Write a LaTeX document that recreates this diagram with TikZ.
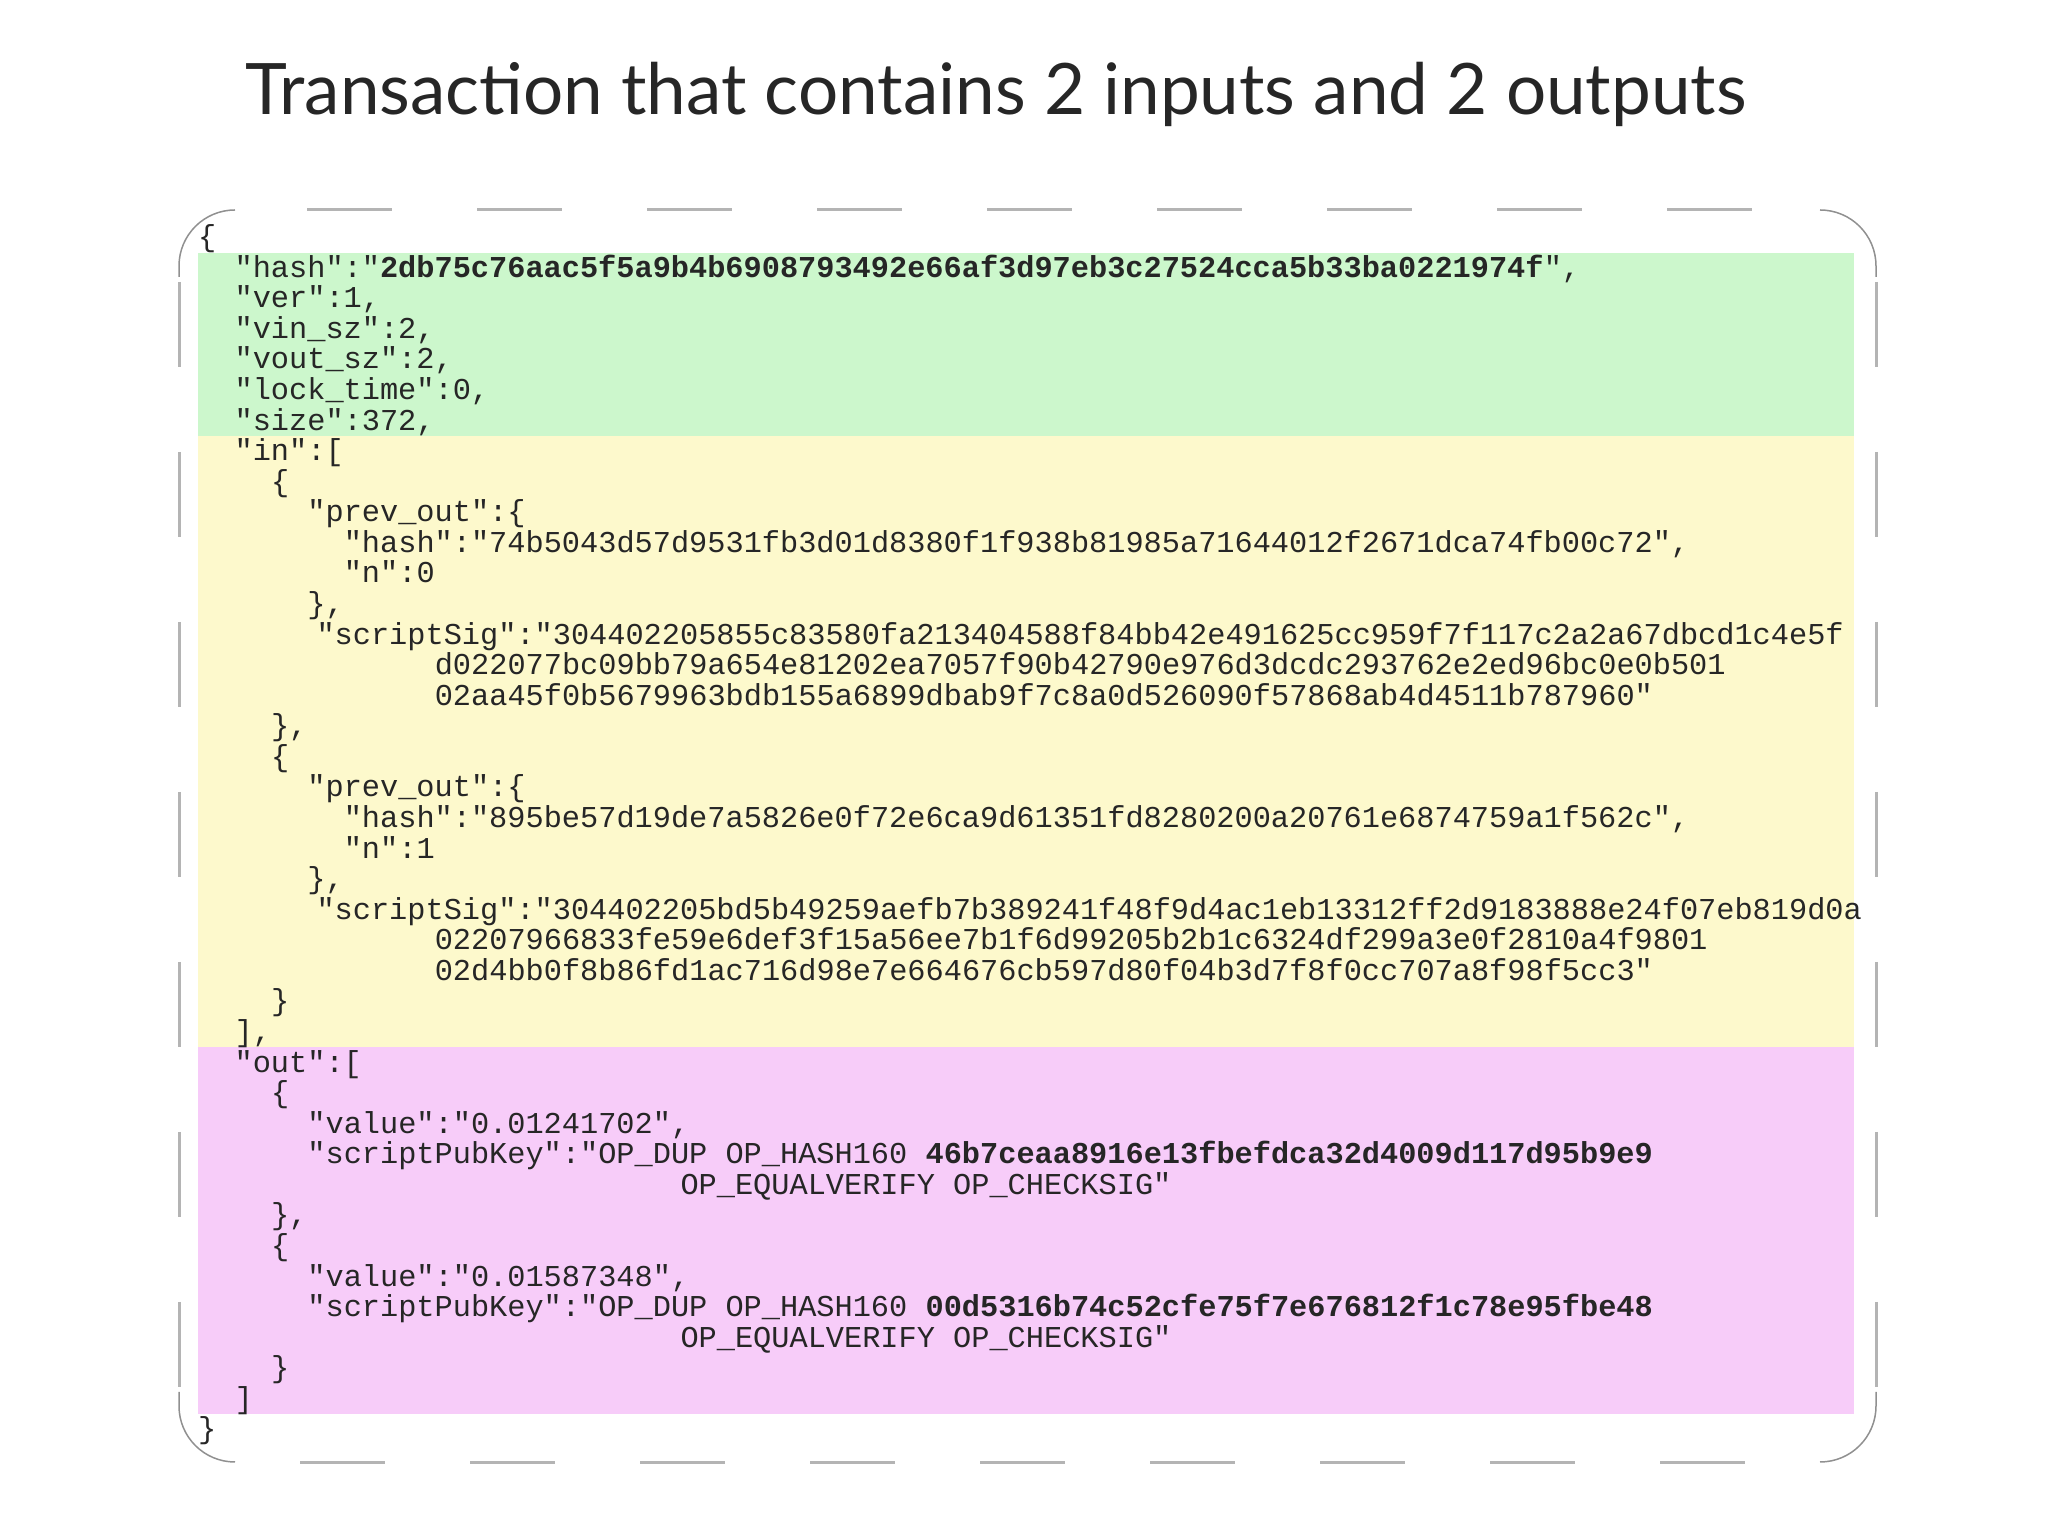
\documentclass[tikz,border=0pt]{standalone}
\usepackage{fontspec}
\setmainfont{Lato}
\setmonofont{Liberation Mono}
\definecolor{grn}{HTML}{CCF7CC}
\definecolor{ylw}{HTML}{FDF9CC}
\definecolor{pnk}{HTML}{F7CCF9}
\definecolor{brd}{HTML}{B4B4B4}
\tikzset{codeline/.style={anchor=base west,inner sep=0pt,font=\fontsize{30.3}{30}\selectfont\ttfamily,text=black!85},
  edgedash/.style={brd,line width=3pt,dash pattern=on 85pt off 85pt},
  corner/.style={brd!80!black,line width=1.5pt}}
\newcommand{\cl}[3]{\node[codeline] (l#1) at ({198+18.2*#2},{1537-246.7-30.57*#1}) {#3};}
\begin{document}
\begin{tikzpicture}[x=1pt,y=1pt]
\useasboundingbox (0,0) rectangle (2048,1537);
\node[font=\fontsize{71}{80}\selectfont,text=black!85] (title) at (996,1443) {Transaction that contains 2 inputs and 2 outputs};
\fill[grn] (198,1284) rectangle (1854,1101);
\fill[ylw] (198,1101) rectangle (1854,490);
\fill[pnk] (198,490) rectangle (1854,123);
\coordinate (tl) at (179,1328);
\coordinate (br) at (1877,74);
% dashed straight edges
\draw[edgedash,dash phase=-72pt] (235,1327) -- (1820,1327);
\draw[edgedash,dash phase=-65pt] (235,75) -- (1820,75);
\draw[edgedash,dash phase=-20pt] (179,1275) -- (179,130);
\draw[edgedash,dash phase=-20pt] (1876,1275) -- (1876,130);
% solid corner arcs
\draw[corner] (235,1327) arc[start angle=90,end angle=180,radius=56] -- (179,1260);
\draw[corner] (1820,1327) arc[start angle=90,end angle=0,radius=56] -- (1876,1260);
\draw[corner] (235,75) arc[start angle=270,end angle=180,radius=56] -- (179,145);
\draw[corner] (1820,75) arc[start angle=270,end angle=360,radius=56] -- (1876,145);
\cl{0}{0}{\{}
\cl{1}{2}{"hash":"\textbf{2db75c76aac5f5a9b4b6908793492e66af3d97eb3c27524cca5b33ba0221974f}",}
\cl{2}{2}{"ver":1,}
\cl{3}{2}{"vin\_sz":2,}
\cl{4}{2}{"vout\_sz":2,}
\cl{5}{2}{"lock\_time":0,}
\cl{6}{2}{"size":372,}
\cl{7}{2}{"in":[}
\cl{8}{4}{\{}
\cl{9}{6}{"prev\_out":\{}
\cl{10}{8}{"hash":"74b5043d57d9531fb3d01d8380f1f938b81985a71644012f2671dca74fb00c72",}
\cl{11}{8}{"n":0}
\cl{12}{6}{\},}
\cl{13}{6.5}{"scriptSig":"304402205855c83580fa213404588f84bb42e491625cc959f7f117c2a2a67dbcd1c4e5f}
\cl{14}{13}{d022077bc09bb79a654e81202ea7057f90b42790e976d3dcdc293762e2ed96bc0e0b501}
\cl{15}{13}{02aa45f0b5679963bdb155a6899dbab9f7c8a0d526090f57868ab4d4511b787960"}
\cl{16}{4}{\},}
\cl{17}{4}{\{}
\cl{18}{6}{"prev\_out":\{}
\cl{19}{8}{"hash":"895be57d19de7a5826e0f72e6ca9d61351fd8280200a20761e6874759a1f562c",}
\cl{20}{8}{"n":1}
\cl{21}{6}{\},}
\cl{22}{6.5}{"scriptSig":"304402205bd5b49259aefb7b389241f48f9d4ac1eb13312ff2d9183888e24f07eb819d0a}
\cl{23}{13}{02207966833fe59e6def3f15a56ee7b1f6d99205b2b1c6324df299a3e0f2810a4f9801}
\cl{24}{13}{02d4bb0f8b86fd1ac716d98e7e664676cb597d80f04b3d7f8f0cc707a8f98f5cc3"}
\cl{25}{4}{\}}
\cl{26}{2}{],}
\cl{27}{2}{"out":[}
\cl{28}{4}{\{}
\cl{29}{6}{"value":"0.01241702",}
\cl{30}{6}{"scriptPubKey":"OP\_DUP OP\_HASH160 \textbf{46b7ceaa8916e13fbefdca32d4009d117d95b9e9}}
\cl{31}{26.5}{OP\_EQUALVERIFY OP\_CHECKSIG"}
\cl{32}{4}{\},}
\cl{33}{4}{\{}
\cl{34}{6}{"value":"0.01587348",}
\cl{35}{6}{"scriptPubKey":"OP\_DUP OP\_HASH160 \textbf{00d5316b74c52cfe75f7e676812f1c78e95fbe48}}
\cl{36}{26.5}{OP\_EQUALVERIFY OP\_CHECKSIG"}
\cl{37}{4}{\}}
\cl{38}{2}{]}
\cl{39}{0}{\}}
\end{tikzpicture}
\end{document}
